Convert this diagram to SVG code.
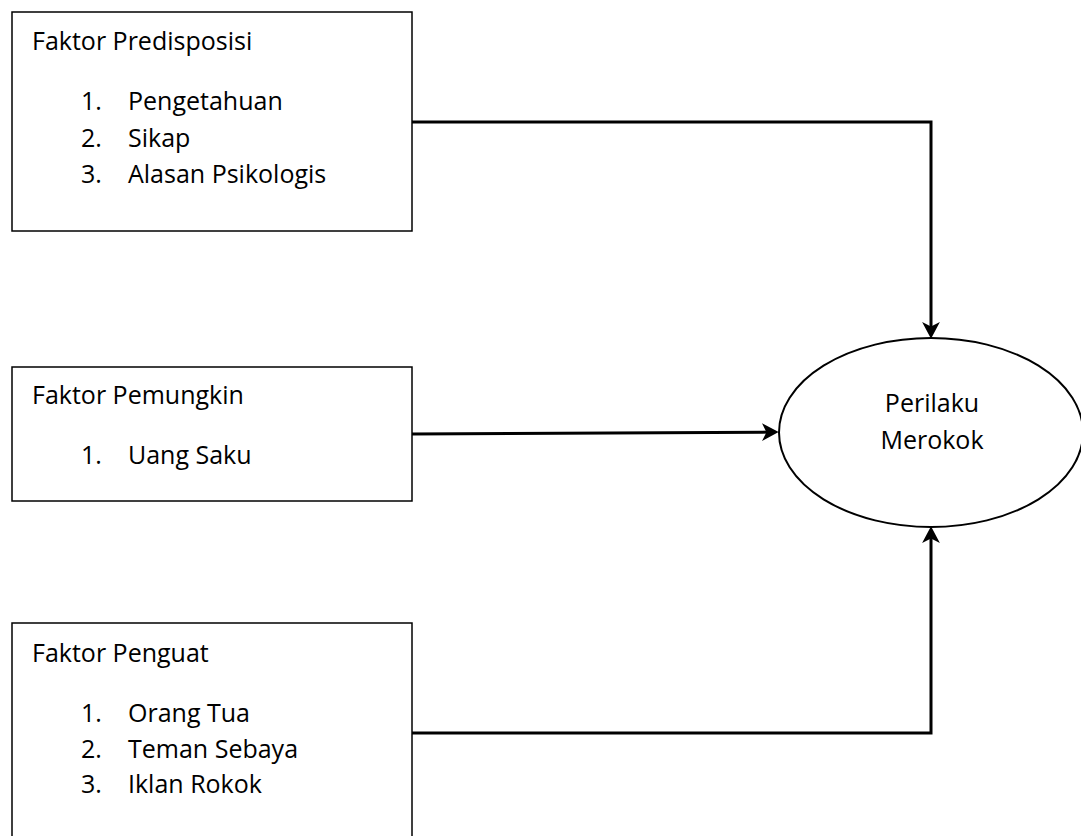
<svg xmlns="http://www.w3.org/2000/svg" width="1081" height="836" viewBox="0 0 1081 836">
<style>
.box{fill:#fff;stroke:#000;stroke-width:1.5}
.ell{fill:#fff;stroke:#000;stroke-width:2}
.con{fill:none;stroke:#000;stroke-width:3}
text{font-family:"Open Sans","Noto Sans","Liberation Sans",sans-serif;font-size:25px;fill:#000}
.mid{text-anchor:middle}
</style>
<defs>
<marker id="arr" markerUnits="userSpaceOnUse" markerWidth="18" markerHeight="20" viewBox="0 -9 16 18" refX="9" refY="0" orient="auto">
<path d="M0,-8 L15,0 L0,8 L4,0 Z" fill="#000"/>
</marker>
</defs>
<rect width="1081" height="836" fill="#fff"/>
<g id="connectors">
<path class="con" d="M412,122 H931 V332" marker-end="url(#arr)"/>
<path class="con" d="M412,434 L772,432.1" marker-end="url(#arr)"/>
<path class="con" d="M412,733 H931 V533" marker-end="url(#arr)"/>
</g>
<g id="node-predisposisi">
<rect class="box" x="12" y="12" width="400" height="219"/>
<text x="32" y="50">Faktor Predisposisi</text>
<text x="81" y="110">1.</text><text x="128" y="110">Pengetahuan</text>
<text x="81" y="146.5">2.</text><text x="128" y="146.5">Sikap</text>
<text x="81" y="183">3.</text><text x="128" y="183">Alasan Psikologis</text>
</g>
<g id="node-pemungkin">
<rect class="box" x="12" y="367" width="400" height="134"/>
<text x="32" y="404">Faktor Pemungkin</text>
<text x="81" y="464">1.</text><text x="128" y="464">Uang Saku</text>
</g>
<g id="node-penguat">
<rect class="box" x="12" y="623" width="400" height="230"/>
<text x="32" y="662">Faktor Penguat</text>
<text x="81" y="722">1.</text><text x="128" y="722">Orang Tua</text>
<text x="81" y="757.5">2.</text><text x="128" y="757.5">Teman Sebaya</text>
<text x="81" y="793">3.</text><text x="128" y="793">Iklan Rokok</text>
</g>
<g id="node-perilaku">
<ellipse class="ell" cx="931" cy="432.5" rx="152" ry="94.5"/>
<text class="mid" x="932" y="412">Perilaku</text>
<text class="mid" x="932" y="449">Merokok</text>
</g>
</svg>
